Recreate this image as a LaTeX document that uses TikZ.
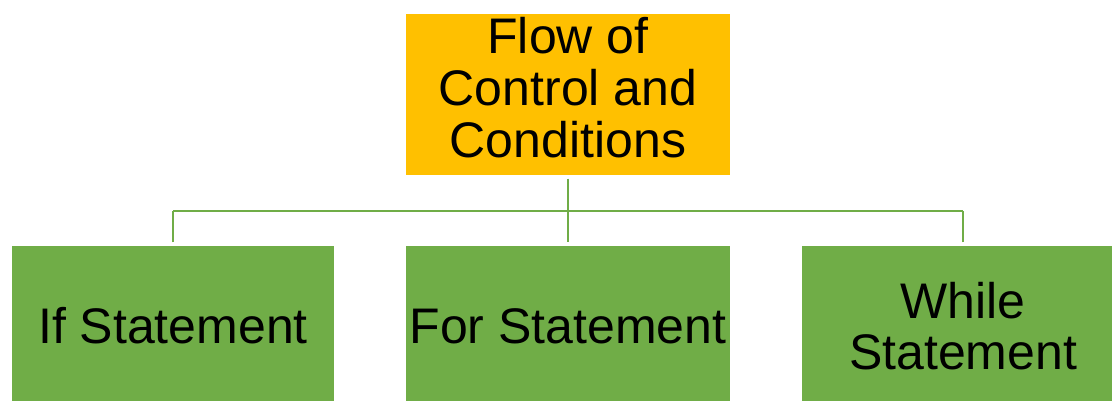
\documentclass[tikz,border=0pt]{standalone}
\usepackage{fontspec}
\setmainfont{Liberation Sans}
\usepackage{tikz}
\usetikzlibrary{positioning,calc}
\definecolor{FCOrange}{HTML}{FFC000}
\definecolor{FCGreen} {HTML}{70AD47}
\definecolor{FCText}  {HTML}{000000}

\begin{document}
\begin{tikzpicture}[x=1pt,y=-1pt,
    topbox/.style={fill=FCOrange,text=FCText,minimum width=324pt,minimum height=161pt,
      inner sep=0pt,align=center,font=\fontsize{50}{51.5}\selectfont},
    kidbox/.style={fill=FCGreen,text=FCText,minimum width=322pt,minimum height=161pt,
      inner sep=0pt,align=center,font=\fontsize{50}{51.5}\selectfont},
    link/.style={draw=FCGreen,line width=2pt}]
    \useasboundingbox (0,0) rectangle (1112,401);
    \clip (0,0) rectangle (1112,401);
    % top
    \node[topbox] (flow) at (568,95)
      {\raisebox{8pt}{\begin{tabular}{@{}c@{}}Flow of\\Control and\\Conditions\end{tabular}}};
    % children
    \node[kidbox] (ifst)    at (173,326) {If Statement};
    \node[kidbox,minimum width=324pt] (forst) at (568,326) {For Statement};
    \node[kidbox] (whilest) at (963,326) {While\\Statement};
    % connectors
    \coordinate (bus) at (568,211);
    \draw[link,shorten <=3pt,shorten >=3pt] (flow.south) -- (forst.north);
    \draw[link] (ifst.north |- bus) -- (whilest.north |- bus);
    \draw[link,shorten <=3pt] (ifst.north) -- (ifst.north |- bus);
    \draw[link,shorten <=3pt] (whilest.north) -- (whilest.north |- bus);
  \end{tikzpicture}
\end{document}
